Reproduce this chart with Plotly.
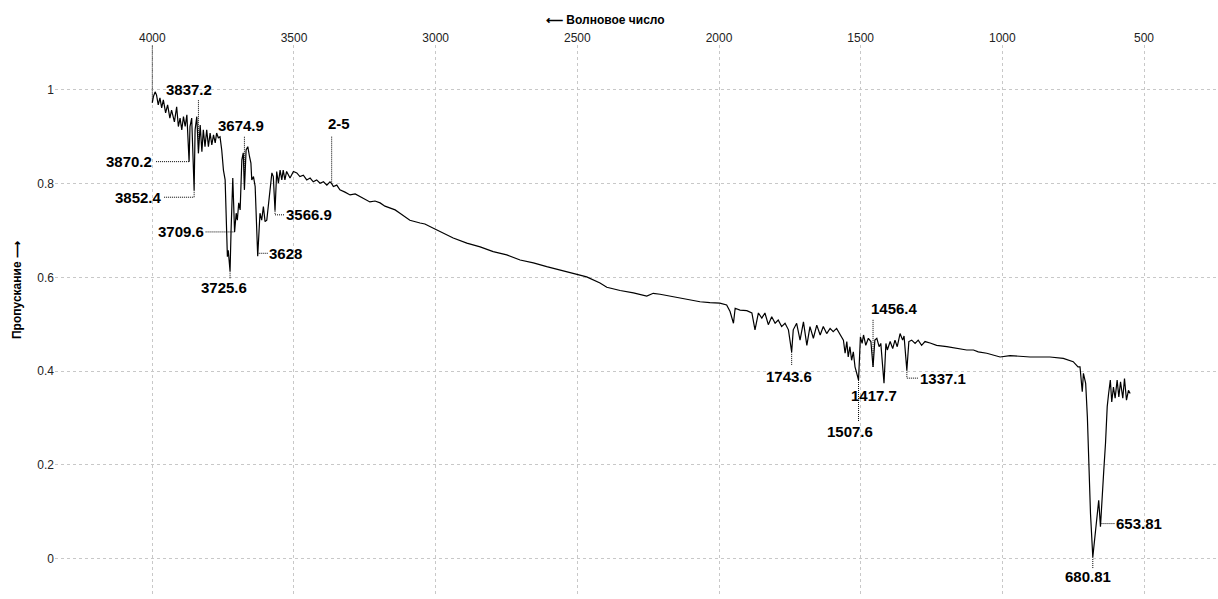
import plotly.graph_objects as go

# ---------------- data ----------------
wavenumber = [
    4000, 3996, 3990, 3985, 3979, 3973, 3967, 3961, 3953, 3946, 3938, 3932, 3922, 3914, 3908, 3902,
    3896, 3890, 3884, 3878, 3870.2, 3867, 3861, 3852.4, 3849, 3843, 3837.2, 3831, 3825, 3820, 3814,
    3808, 3802, 3796, 3790, 3784, 3778, 3773, 3767, 3761, 3755, 3749, 3743, 3740, 3735, 3732, 3725.6,
    3722, 3716, 3709.6, 3707, 3704, 3700, 3695, 3690, 3684, 3679, 3674.9, 3669, 3663, 3657, 3652,
    3649, 3643, 3637, 3628, 3620, 3614, 3608, 3602, 3596, 3590, 3584, 3578, 3573, 3566.9, 3561, 3555,
    3549, 3543, 3538, 3532, 3526, 3514, 3502, 3490, 3479, 3467, 3455, 3443, 3432, 3420, 3408, 3396,
    3384, 3373, 3367, 3361, 3349, 3338, 3320, 3302, 3284, 3267, 3249, 3232, 3214, 3196, 3179, 3161,
    3143, 3126, 3108, 3091, 3055, 3038, 3008, 2973, 2938, 2890, 2843, 2797, 2749, 2702, 2655, 2608,
    2561, 2514, 2467, 2420, 2396, 2349, 2302, 2255, 2232, 2208, 2173, 2138, 2102, 2067, 2032, 1997,
    1973, 1961, 1949, 1943, 1926, 1902, 1884, 1873, 1861, 1849, 1838, 1826, 1814, 1802, 1791, 1779,
    1767, 1755, 1743.6, 1738, 1726, 1714, 1702, 1690, 1679, 1667, 1655, 1643, 1632, 1620, 1608, 1597,
    1585, 1573, 1561, 1555, 1549, 1544, 1538, 1532, 1526, 1520, 1507.6, 1501, 1495, 1490, 1482, 1473,
    1464, 1456.4, 1450, 1443, 1435, 1429, 1417.7, 1411, 1406, 1396, 1387, 1379, 1371, 1361, 1352, 1347,
    1337.1, 1330, 1320, 1308, 1297, 1285, 1273, 1255, 1232, 1196, 1161, 1126, 1102, 1085, 1055, 1008,
    973, 902, 832, 785, 750, 733, 726, 718, 714, 706, 700, 695, 689, 680.81, 671, 660, 653.81, 648,
    642, 636, 630, 625, 619, 614, 608, 602, 595, 589, 583, 575, 569, 562, 555, 549,
]
transmittance = [
    0.973, 0.986, 0.996, 0.989, 0.968, 0.983, 0.962, 0.979, 0.951, 0.968, 0.940, 0.957, 0.932, 0.964, 0.922, 0.940,
    0.915, 0.943, 0.922, 0.947, 0.847, 0.922, 0.940, 0.786, 0.915, 0.943, 0.865, 0.925, 0.868, 0.915, 0.879,
    0.915, 0.879, 0.908, 0.883, 0.904, 0.887, 0.908, 0.898, 0.900, 0.872, 0.829, 0.808, 0.737, 0.644, 0.658, 0.613,
    0.701, 0.812, 0.697, 0.712, 0.737, 0.722, 0.759, 0.744, 0.851, 0.866, 0.787, 0.872, 0.879, 0.858, 0.844,
    0.808, 0.815, 0.794, 0.645, 0.737, 0.722, 0.751, 0.719, 0.722, 0.755, 0.787, 0.823, 0.815, 0.742, 0.826, 0.801,
    0.829, 0.808, 0.829, 0.808, 0.826, 0.812, 0.826, 0.823, 0.815, 0.818, 0.808, 0.812, 0.804, 0.808, 0.801, 0.804,
    0.797, 0.804, 0.800, 0.794, 0.797, 0.787, 0.782, 0.776, 0.778, 0.772, 0.767, 0.761, 0.763, 0.759, 0.752, 0.748,
    0.744, 0.737, 0.729, 0.722, 0.716, 0.714, 0.705, 0.695, 0.684, 0.673, 0.665, 0.655, 0.648, 0.637, 0.631, 0.623,
    0.616, 0.609, 0.601, 0.588, 0.579, 0.572, 0.567, 0.560, 0.566, 0.564, 0.560, 0.556, 0.552, 0.548, 0.546, 0.545,
    0.541, 0.527, 0.502, 0.534, 0.530, 0.529, 0.524, 0.488, 0.524, 0.513, 0.524, 0.499, 0.516, 0.502, 0.509, 0.495,
    0.502, 0.488, 0.441, 0.488, 0.502, 0.466, 0.505, 0.455, 0.495, 0.470, 0.498, 0.477, 0.495, 0.480, 0.491, 0.484,
    0.491, 0.477, 0.466, 0.438, 0.463, 0.430, 0.452, 0.423, 0.441, 0.409, 0.381, 0.473, 0.459, 0.477, 0.455, 0.470,
    0.463, 0.409, 0.466, 0.470, 0.452, 0.459, 0.374, 0.459, 0.445, 0.463, 0.448, 0.466, 0.452, 0.480, 0.466, 0.475,
    0.402, 0.463, 0.466, 0.459, 0.466, 0.455, 0.463, 0.460, 0.455, 0.452, 0.448, 0.445, 0.445, 0.441, 0.438, 0.430,
    0.433, 0.430, 0.430, 0.427, 0.420, 0.409, 0.409, 0.356, 0.395, 0.374, 0.302, 0.203, 0.096, 0.003, 0.067, 0.124, 0.068, 0.118,
    0.189, 0.246, 0.324, 0.352, 0.381, 0.334, 0.366, 0.342, 0.381, 0.345, 0.377, 0.342, 0.384, 0.338, 0.359, 0.352,
]

peak_wavenumbers = [3837.2, 3870.2, 3852.4, 3674.9, 3709.6, 3725.6, 3628, 3566.9, 3367,
                    1743.6, 1456.4, 1417.7, 1507.6, 1337.1, 680.81, 653.81, 4000]
peak_labels = ["3837.2", "3870.2", "3852.4", "3674.9", "3709.6", "3725.6", "3628", "3566.9", "2-5",
               "1743.6", "1456.4", "1417.7", "1507.6", "1337.1", "680.81", "653.81", ""]

x_tick_values = [4000, 3500, 3000, 2500, 2000, 1500, 1000, 500]
x_tick_labels = ["4000", "3500", "3000", "2500", "2000", "1500", "1000", "500"]
y_tick_values = [0, 0.2, 0.4, 0.6, 0.8, 1.0]
y_tick_labels = ["0", "0.2", "0.4", "0.6", "0.8", "1"]

x_title = "⟵ Волновое число"
y_title = "Пропускание ⟶"

# ---------------- layout geometry ----------------
W, H = 1218, 599
M_L, M_R, M_T, M_B = 55, 0, 45, 4
X_RANGE = [4343.4, 239.0]
Y_RANGE = [-0.078, 1.096]
plot_w = W - M_L - M_R
plot_h = H - M_T - M_B
x_per_px = (X_RANGE[1] - X_RANGE[0]) / plot_w
y_per_px = (Y_RANGE[1] - Y_RANGE[0]) / plot_h

# label offsets (px, right / down) and leader paths (px offsets from the peak point)
label_style = {
    "3837.2": dict(dx=-9, dy=-64, leader=[(0, 0), (0, -54)]),
    "3870.2": dict(dx=-60, dy=0, leader=[(0, 0), (-34, 0)]),
    "3852.4": dict(dx=-56, dy=7, leader=[(0, 0), (0, 7), (-31, 7)]),
    "3674.9": dict(dx=-3, dy=-64, leader=[(0, 0), (0, -54)]),
    "3709.6": dict(dx=-54, dy=0, leader=[(0, 0), (-29, 0)]),
    "3725.6": dict(dx=-6, dy=16, leader=[(0, 0), (0, 7)]),
    "3628": dict(dx=28, dy=-3, leader=[(1, -3), (11, -3)]),
    "3566.9": dict(dx=34, dy=4, leader=[(0, 0), (0, 4), (10, 4)]),
    "2-5": dict(dx=7, dy=-60, leader=[(0, 0), (0, -48)]),
    "1743.6": dict(dx=-3, dy=25, leader=[(0, 0), (0, 14)]),
    "1456.4": dict(dx=21, dy=-58, leader=[(0, 0), (0, -48)]),
    "1417.7": dict(dx=-10, dy=12, leader=None),
    "1507.6": dict(dx=-9, dy=52, leader=[(0, 0), (0, 42)]),
    "1337.1": dict(dx=36, dy=8, leader=[(0, 0), (0, 8), (12, 8)]),
    "680.81": dict(dx=-5, dy=19, leader=[(0, 0), (0, 11)]),
    "653.81": dict(dx=39, dy=-3, leader=[(1, -3), (15, -3)]),
    "": dict(dx=0, dy=0, leader=[(0, 0), (0, -60)]),
}

FONT = "Liberation Sans, Arial, sans-serif"

fig = go.Figure()
fig.add_trace(go.Scatter(x=wavenumber, y=transmittance, mode="lines",
                         line=dict(color="#000000", width=1.2), hoverinfo="skip", showlegend=False))

annotations = []
shapes = []
for wn, lab in zip(peak_wavenumbers, peak_labels):
    t = transmittance[wavenumber.index(wn)]
    st = label_style[lab]
    if lab:
        annotations.append(dict(x=wn, y=t, xref="x", yref="y", text="<b>%s</b>" % lab,
                                showarrow=False, xshift=st["dx"], yshift=-st["dy"],
                                font=dict(family=FONT, size=15, color="#000000"),
                                xanchor="center", yanchor="middle"))
    if st["leader"]:
        pts = [(wn + px * x_per_px, t - py * y_per_px) for px, py in st["leader"]]
        path = "M " + " L ".join("%f,%f" % p for p in pts)
        shapes.append(dict(type="path", path=path, xref="x", yref="y",
                           line=dict(color="#000000", width=1, dash="1px,1px")))

annotations.append(dict(x=(605 - M_L) / plot_w, y=(H - M_B - 20) / plot_h, xref="paper", yref="paper",
                        text="<b>%s</b>" % x_title, showarrow=False,
                        font=dict(family=FONT, size=12, color="#000000"),
                        xanchor="center", yanchor="middle"))
annotations.append(dict(x=(17 - M_L) / plot_w, y=(H - M_B - 290) / plot_h, xref="paper", yref="paper",
                        text="<b>%s</b>" % y_title, showarrow=False, textangle=-90,
                        font=dict(family=FONT, size=12, color="#000000"),
                        xanchor="center", yanchor="middle"))

fig.update_layout(
    width=W, height=H,
    margin=dict(l=M_L, r=M_R, t=M_T, b=M_B),
    paper_bgcolor="#ffffff", plot_bgcolor="#ffffff",
    xaxis=dict(range=X_RANGE, side="top", tickvals=x_tick_values, ticktext=x_tick_labels,
               showgrid=True, gridcolor="#c8c8c8", griddash="3px,3px", gridwidth=1,
               zeroline=False, showline=False, ticks="",
               tickfont=dict(family=FONT, size=12, color="#222222")),
    yaxis=dict(range=Y_RANGE, tickvals=y_tick_values, ticktext=y_tick_labels,
               showgrid=True, gridcolor="#c8c8c8", griddash="3px,3px", gridwidth=1,
               zeroline=False, showline=False, ticks="", ticklabelstandoff=0,
               tickfont=dict(family=FONT, size=12, color="#222222")),
    annotations=annotations,
    shapes=shapes,
)

fig.write_html("out.html")
